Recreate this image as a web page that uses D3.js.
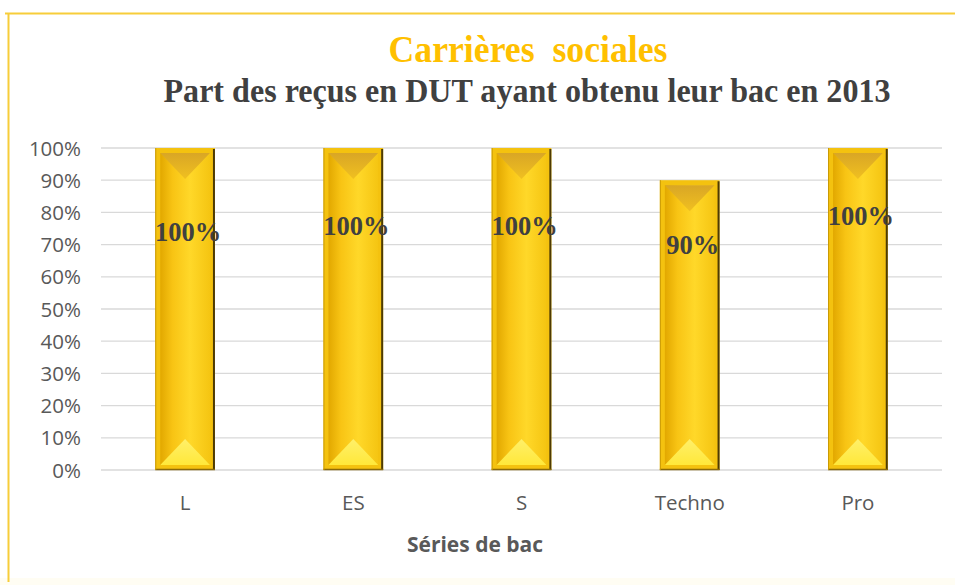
<!DOCTYPE html>
<html><head><meta charset="utf-8">
<script src="https://cdn.jsdelivr.net/npm/d3@7"></script>
<style>html,body{margin:0;padding:0;background:#fff;}svg{display:block;}</style>
</head><body>
<svg id="c" width="955" height="585"></svg>
<script>
const categories = ["L", "ES", "S", "Techno", "Pro"];
const values = [100, 100, 100, 90, 100];
const labelAt = [74, 76, 76, 70, 79];
const yTicks = [0,10,20,30,40,50,60,70,80,90,100];
const title = "Carrières  sociales";
const subtitle = "Part des reçus en DUT ayant obtenu leur bac en 2013";
const xTitle = "Séries de bac";

const svg = d3.select("#c");
const W = 955, H = 585;
const m = {left:101, right:13, top:148, bottom:115};

// frame
svg.append("rect").attr("x",0).attr("y",578).attr("width",W).attr("height",7).attr("fill","#fffdf3");
svg.append("line").attr("x1",5).attr("x2",W).attr("y1",13.5).attr("y2",13.5).attr("stroke","#F7CD3A").attr("stroke-width",2);
svg.append("line").attr("x1",8.5).attr("x2",8.5).attr("y1",13).attr("y2",582).attr("stroke","#F7CD3A").attr("stroke-width",2);

svg.append("text").attr("x",528).attr("y",62).attr("text-anchor","middle")
  .attr("font-family","Liberation Serif").attr("font-weight","bold").attr("font-size",38)
  .attr("fill","#FFC000").attr("textLength",279).attr("lengthAdjust","spacingAndGlyphs")
  .style("white-space","pre").text(title);
svg.append("text").attr("x",527).attr("y",102).attr("text-anchor","middle")
  .attr("font-family","Liberation Serif").attr("font-weight","bold").attr("font-size",33)
  .attr("fill","#404040").attr("textLength",727).attr("lengthAdjust","spacingAndGlyphs")
  .text(subtitle);

const x = d3.scaleBand().domain(categories).range([m.left, W - m.right]).paddingInner(0.645).paddingOuter(0.3225);
const y = d3.scaleLinear().domain([0,100]).range([470, 148]);

// grid
const g = svg.append("g");
g.selectAll("line.grid").data(yTicks).join("line")
  .attr("x1", m.left).attr("x2", W - m.right)
  .attr("y1", d => y(d)).attr("y2", d => y(d))
  .attr("stroke","#d9d9d9").attr("stroke-width",1.3);

const yAxis = d3.axisLeft(y).tickValues(yTicks).tickFormat(d => d + "%").tickSize(0).tickPadding(0);
const ya = svg.append("g").attr("transform","translate(81,0)").call(yAxis);
ya.select(".domain").remove();
ya.selectAll("text").attr("font-family","Open Sans").attr("font-size",20.5).attr("fill","#595959").attr("dy","0.35em");

const xAxis = d3.axisBottom(x).tickSize(0).tickPadding(0);
const xa = svg.append("g").attr("transform","translate(0,503)").call(xAxis);
xa.select(".domain").remove();
xa.selectAll("text").attr("font-family","Open Sans").attr("font-size",20.5).attr("fill","#595959").attr("dy","0.35em");

svg.append("text").attr("x",475).attr("y",552).attr("text-anchor","middle")
  .attr("font-family","Open Sans").attr("font-weight","bold").attr("font-size",21)
  .attr("fill","#595959").text(xTitle);

// gradients
const defs = svg.append("defs");
const gr = defs.append("linearGradient").attr("id","barG").attr("x1",0).attr("x2",1).attr("y1",0).attr("y2",0);
[[0,"#E2A800"],[0.25,"#F8C414"],[0.6,"#FFD829"],[1,"#F5C512"]].forEach(s=>gr.append("stop").attr("offset",s[0]).attr("stop-color",s[1]));
const grT = defs.append("linearGradient").attr("id","topG").attr("x1",0).attr("x2",0).attr("y1",0).attr("y2",1);
[[0,"#D9A625"],[1,"#F0C020"]].forEach(s=>grT.append("stop").attr("offset",s[0]).attr("stop-color",s[1]));
const grB = defs.append("linearGradient").attr("id","botG").attr("x1",0).attr("x2",0).attr("y1",0).attr("y2",1);
[[0,"#FFF06A"],[1,"#FFE83A"]].forEach(s=>grB.append("stop").attr("offset",s[0]).attr("stop-color",s[1]));

const data = categories.map((c,i)=>({c, v:values[i], l:labelAt[i]}));
const bars = svg.append("g").selectAll("g").data(data).join("g");
const bw = x.bandwidth();
const inset = 5, tri = 26;
bars.append("rect").attr("x", d=>x(d.c)).attr("y", d=>y(d.v)).attr("width", bw).attr("height", d=>y(0)-y(d.v))
  .attr("fill","#F4C20F");
bars.append("rect").attr("x", d=>x(d.c)+inset).attr("y", d=>y(d.v)+inset).attr("width", bw-2*inset).attr("height", d=>y(0)-y(d.v)-2*inset)
  .attr("fill","url(#barG)");
bars.append("path").attr("d", d=>{
  const x0=x(d.c)+inset, x1=x(d.c)+bw-inset, t=y(d.v)+inset, cx=x(d.c)+bw/2;
  return `M${x0},${t}L${x1},${t}L${cx},${t+tri}Z`;
}).attr("fill","url(#topG)");
bars.append("path").attr("d", d=>{
  const x0=x(d.c)+inset, x1=x(d.c)+bw-inset, b=y(0)-inset, cx=x(d.c)+bw/2;
  return `M${x0},${b}L${x1},${b}L${cx},${b-tri}Z`;
}).attr("fill","url(#botG)");
// edge shading
bars.append("line").attr("x1", d=>x(d.c)+bw-1).attr("x2", d=>x(d.c)+bw-1).attr("y1", d=>y(d.v)+1).attr("y2", y(0))
  .attr("stroke","#4d3b05").attr("stroke-width",2);
bars.append("line").attr("x1", d=>x(d.c)).attr("x2", d=>x(d.c)+bw).attr("y1", y(0)-0.5).attr("y2", y(0)-0.5)
  .attr("stroke","#8a6a0a").attr("stroke-width",1.5);
bars.append("line").attr("x1", d=>x(d.c)+0.5).attr("x2", d=>x(d.c)+0.5).attr("y1", d=>y(d.v)).attr("y2", y(0))
  .attr("stroke","#C99A06").attr("stroke-width",1);

bars.append("text").attr("x", d=>x(d.c)+bw/2+3).attr("y", d=>y(d.l)).attr("dy","0.35em")
  .attr("text-anchor","middle").attr("font-family","Liberation Serif").attr("font-weight","bold")
  .attr("font-size",26.5).attr("fill","#404040").text(d=>d.v+"%");
</script>
</body></html>
